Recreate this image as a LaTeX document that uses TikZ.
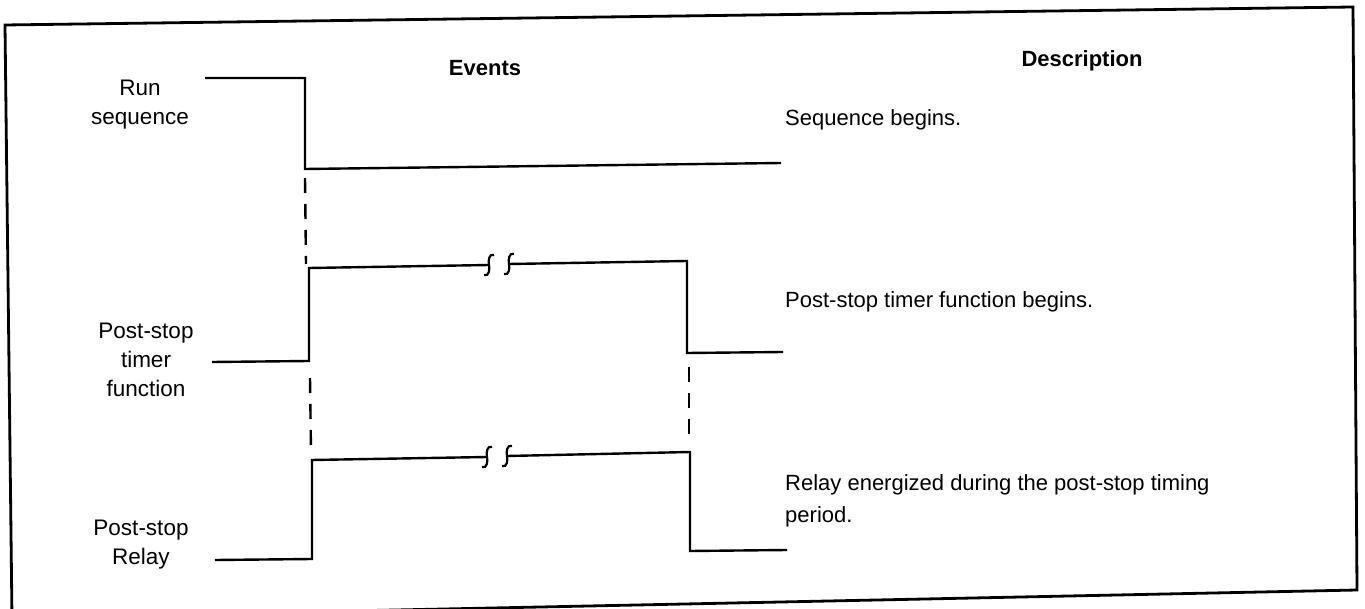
\documentclass[tikz,border=0pt]{standalone}
\usepackage{fontspec}
\setmainfont{Liberation Sans}
\begin{document}
\begin{tikzpicture}[x=1pt,y=-1pt,
  wave/.style={line width=2.4pt,line join=miter},
  guide/.style={line width=2.4pt,dash pattern=on 15pt off 11pt},
  frameline/.style={line width=2.8pt},
  lbl/.style={font=\fontsize{22.5}{29}\selectfont,align=center,inner sep=0pt,anchor=base},
  desc/.style={font=\fontsize{22}{32}\selectfont,align=left,inner sep=0pt,anchor=base west},
  head/.style={font=\fontsize{22}{26}\selectfont\bfseries,inner sep=0pt,anchor=base}]
\useasboundingbox (0,0) rectangle (1365,609);
% frame (slightly skewed like the scan)
\draw[frameline] (5,25) -- (1353,7) -- (1357,590) -- (12,618) -- cycle;
% headings
\node[head] (events) at (485,76) {Events};
\node[head] (descr) at (1082,67) {Description};
% left labels (base = baseline of last line)
\node[lbl] (run) at (140,125) {Run\\sequence};
\node[lbl] (timer) at (146,396) {Post-stop\\timer\\function};
\node[lbl] (relay) at (141,564) {Post-stop\\Relay};
% descriptions
\node[desc] (d1) at (785,126) {Sequence begins.};
\node[desc] (d2) at (785,308) {Post-stop timer function begins.};
\node[desc] (d3) at (785,522) {Relay energized during the post-stop timing\\period.};
% run sequence waveform
\coordinate (r0) at (205,78);
\coordinate (r1) at (305,78);
\coordinate (r2) at (305,169);
\coordinate (r3) at (781,163);
\draw[wave] (r0) -- (r1) -- (r2) -- (r3);
% timer waveform
\coordinate (t0) at (212,362);
\coordinate (t1) at (309,361);
\coordinate (t2) at (309,268);
\coordinate (tb1) at (489,265);
\coordinate (tb2) at (509,264);
\coordinate (t3) at (687,261);
\coordinate (t4) at (687,353);
\coordinate (t5) at (783,352);
\draw[wave] (t0) -- (t1) -- (t2) -- (tb1);
\draw[wave] (tb2) -- (t3) -- (t4) -- (t5);
% relay waveform
\coordinate (p0) at (215,560);
\coordinate (p1) at (312,559);
\coordinate (p2) at (312,460);
\coordinate (pb1) at (487,457);
\coordinate (pb2) at (507,456);
\coordinate (p3) at (690,452);
\coordinate (p4) at (690,551);
\coordinate (p5) at (787,550);
\draw[wave] (p0) -- (p1) -- (p2) -- (pb1);
\draw[wave] (pb2) -- (p3) -- (p4) -- (p5);
% break marks
\foreach \c in {tb1,tb2,pb1,pb2}{
  \draw[line width=2.2pt] ([shift={(5,-10)}]\c) .. controls ([shift={(0,-12)}]\c) and ([shift={(-1,-4)}]\c) .. (\c)
     .. controls ([shift={(1,4)}]\c) and ([shift={(0,12)}]\c) .. ([shift={(-5,10)}]\c);
}
% guide dashes
\coordinate (g1a) at (305,178);
\coordinate (g1b) at (306,264);
\coordinate (g2a) at (310,378);
\coordinate (g2b) at (311,452);
\coordinate (g3a) at (689,367);
\coordinate (g3b) at (689,441);
\draw[guide] (g1a) -- (g1b);
\draw[guide] (g2a) -- (g2b);
\draw[guide] (g3a) -- (g3b);
\end{tikzpicture}
\end{document}
